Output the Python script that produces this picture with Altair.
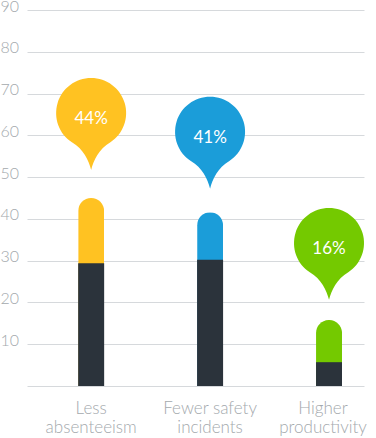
import altair as alt
import pandas as pd

categories = ["Less absenteeism", "Fewer safety incidents", "Higher productivity"]
label_line1 = ["Less", "Fewer safety", "Higher"]
label_line2 = ["absenteeism", "incidents", "productivity"]
totals = [45.0, 41.6, 15.8]
bases = [29.4, 30.2, 5.7]
bubble_pos = [65.3, 60.8, 34.2]
pct_labels = ["44%", "41%", "16%"]
colors = ["#FFC222", "#1B9DD9", "#74C900"]
dark = "#2B333B"

df = pd.DataFrame({
    "cat": categories,
    "total": totals,
    "base": bases,
    "bubble": bubble_pos,
    "pct": pct_labels,
})

expr = " : ".join(
    f"datum.value == '{c}' ? ['{a}', '{b}']" for c, a, b in zip(categories, label_line1, label_line2)
) + " : datum.label"

x = alt.X(
    "cat:N",
    sort=categories,
    title=None,
    scale=alt.Scale(paddingInner=0.78, paddingOuter=0.3067, align=0.7),
    axis=alt.Axis(
        labelAngle=0,
        domain=False,
        ticks=False,
        labelExpr=expr,
        labelFont="Lato",
        labelFontSize=17,
        labelFontWeight=300,
        labelColor="#A4A9AD",
        labelPadding=14,
        labelBaseline="top",
        labelLineHeight=19,
        labelOffset={"condition": {"test": "datum.value == 'Higher productivity'", "value": -6}, "value": 0},
    ),
)

yscale = alt.Scale(domain=[0, 90], nice=False)
yaxis = alt.Axis(
    values=list(range(0, 91, 10)),
    labelExpr="datum.value == 0 ? '' : datum.label",
    domain=False,
    ticks=False,
    grid=True,
    gridColor="#D6D9DC",
    gridWidth=1,
    labelFont="Lato",
    labelFontSize=16,
    labelFontWeight=300,
    labelColor="#A4A9AD",
    labelAlign="left",
    labelPadding=27,
    labelBaseline="alphabetic",
    labelOffset=1,
    title=None,
)

color = alt.Color("cat:N", scale=alt.Scale(domain=categories, range=colors), legend=None)

top_bar = alt.Chart(df).mark_bar(size=26, cornerRadiusTopLeft=13, cornerRadiusTopRight=13).encode(
    x=x,
    y=alt.Y("total:Q", scale=yscale, axis=yaxis),
    color=color,
)

base_bar = alt.Chart(df).mark_bar(size=26, color=dark).encode(
    x=alt.X("cat:N", sort=categories),
    y=alt.Y("base:Q"),
)

pin = "M0,1.62 C-0.07,1.35 -0.22,1.02 -0.55,0.83 A1,1 0 1,1 0.55,0.83 C0.22,1.02 0.07,1.35 0,1.62 Z"

bubbles = alt.Chart(df).mark_point(shape=pin, filled=True, opacity=1, size=4900, strokeWidth=0).encode(
    x=alt.X("cat:N", sort=categories),
    y=alt.Y("bubble:Q"),
    color=color,
)

texts = alt.Chart(df).mark_text(
    font="Lato", fontSize=17, fontWeight="normal", color="white", baseline="middle", dy=6
).encode(
    x=alt.X("cat:N", sort=categories),
    y=alt.Y("bubble:Q"),
    text="pct:N",
)

chart = alt.layer(top_bar, base_bar, bubbles, texts).properties(
    width=337,
    height=376,
    autosize=alt.AutoSizeParams(type="none"),
    padding={"left": 27, "top": 10, "right": 12, "bottom": 52},
    background="white",
).configure_view(strokeWidth=0)

chart.save("out.html", embed_options={"renderer": "svg", "actions": False})
